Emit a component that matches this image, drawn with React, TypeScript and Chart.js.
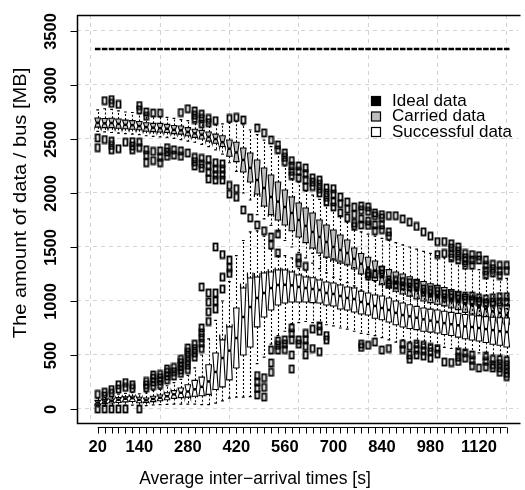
import React, { useEffect, useRef } from "react";
import { Chart, registerables } from "chart.js";

Chart.register(...registerables);

// Average inter-arrival times [s], one box group per setting
const arrivalTimes = [
  20, 40, 60, 80, 100, 120, 140, 160, 180, 200,
  220, 240, 260, 280, 300, 320, 340, 360, 380, 400,
  420, 440, 460, 480, 500, 520, 540, 560, 580, 600,
  620, 640, 660, 680, 700, 720, 740, 760, 780, 800,
  820, 840, 860, 880, 900, 920, 940, 960, 980, 1000,
  1020, 1040, 1060, 1080, 1100, 1120, 1140, 1160, 1180, 1200,
];
const labelledTimes = [20, 140, 280, 420, 560, 700, 840, 980, 1120];
const yTicks = [0, 500, 1000, 1500, 2000, 2500, 3000, 3500];
const seriesNames = ["Ideal data", "Carried data", "Successful data"];

// Ideal data (no spread)
const idealData = [
  3333, 3333, 3333, 3333, 3333, 3333, 3333, 3333, 3333, 3333,
  3333, 3333, 3333, 3333, 3333, 3333, 3333, 3333, 3333, 3333,
  3333, 3333, 3333, 3333, 3333, 3333, 3333, 3333, 3333, 3333,
  3333, 3333, 3333, 3333, 3333, 3333, 3333, 3333, 3333, 3333,
  3333, 3333, 3333, 3333, 3333, 3333, 3333, 3333, 3333, 3333,
  3333, 3333, 3333, 3333, 3333, 3333, 3333, 3333, 3333, 3333,
];

// Carried data: whisker ends, hinges, medians, outliers
const carriedLow = [
  2570, 2565, 2560, 2555, 2550, 2545, 2540, 2530, 2525, 2520,
  2515, 2505, 2495, 2480, 2470, 2450, 2430, 2400, 2360, 2280,
  2200, 2000, 1935, 1800, 1760, 1700, 1640, 1560, 1500, 1450,
  1400, 1350, 1300, 1260, 1220, 1200, 1170, 1140, 1100, 1060,
  1030, 1000, 980, 950, 920, 900, 880, 860, 840, 820,
  810, 790, 780, 760, 750, 740, 730, 720, 700, 690,
];
const carriedQ1 = [
  2610, 2605, 2605, 2600, 2595, 2590, 2585, 2572, 2568, 2565,
  2560, 2550, 2545, 2530, 2515, 2500, 2480, 2460, 2430, 2340,
  2290, 2195, 2102, 1990, 1880, 1800, 1750, 1704, 1650, 1593,
  1540, 1490, 1444, 1407, 1380, 1352, 1333, 1296, 1250, 1215,
  1190, 1150, 1120, 1090, 1065, 1045, 1020, 1000, 985, 970,
  955, 935, 920, 895, 880, 860, 845, 820, 800, 785,
];
const carriedMedian = [
  2650, 2645, 2648, 2640, 2632, 2628, 2620, 2610, 2605, 2600,
  2595, 2585, 2580, 2565, 2552, 2540, 2520, 2500, 2470, 2410,
  2375, 2306, 2232, 2120, 2046, 1963, 1920, 1870, 1815, 1750,
  1695, 1639, 1593, 1546, 1500, 1472, 1444, 1390, 1345, 1310,
  1280, 1230, 1200, 1170, 1150, 1130, 1105, 1085, 1065, 1050,
  1035, 1015, 1000, 975, 960, 940, 925, 905, 890, 870,
];
const carriedQ3 = [
  2695, 2690, 2692, 2685, 2675, 2670, 2662, 2650, 2645, 2645,
  2635, 2625, 2620, 2605, 2590, 2580, 2565, 2545, 2530, 2490,
  2470, 2417, 2370, 2306, 2232, 2167, 2102, 2028, 1963, 1907,
  1861, 1815, 1750, 1704, 1657, 1611, 1565, 1490, 1440, 1405,
  1370, 1320, 1290, 1268, 1250, 1225, 1200, 1180, 1160, 1145,
  1125, 1105, 1090, 1060, 1045, 1030, 1010, 995, 980, 965,
];
const carriedHigh = [
  2770, 2780, 2775, 2760, 2750, 2745, 2735, 2720, 2710, 2705,
  2700, 2690, 2680, 2670, 2660, 2650, 2640, 2630, 2640, 2650,
  2660, 2630, 2583, 2540, 2490, 2430, 2370, 2250, 2130, 2100,
  2020, 1980, 1940, 1890, 1840, 1790, 1730, 1665, 1640, 1620,
  1600, 1580, 1560, 1540, 1520, 1500, 1480, 1460, 1440, 1420,
  1400, 1380, 1350, 1320, 1300, 1290, 1220, 1250, 1210, 1210,
];
const carriedOutliers = [
  [2510, 2420], [2855, 2495], [2865, 2830, 2480, 2440, 2400], [2820, 2410], [2470],
  [2475, 2435, 2400], [2810, 2770, 2470, 2420], [2750, 2710, 2400, 2350, 2280], [2740, 2385, 2300], [2740, 2390, 2330, 2280],
  [2420, 2380, 2340], [2400, 2350], [2745, 2390, 2340], [2780, 2370], [2760, 2720, 2680, 2330, 2290, 2250],
  [2730, 2690, 2640, 2320, 2270, 2230], [2690, 2650, 2310, 2250, 2190, 2130], [2670, 2280, 2220, 2170, 2120], [2270, 2220, 2170, 2120], [2690, 2070, 1990],
  [2700, 2040, 1960], [2676, 1843], [1769], [2602, 1704], [2556, 1650],
  [2491, 1593], [2445, 2400, 1620], [2370, 2330, 2290], [2300, 2250, 2200, 2160], [2250, 2200, 2140],
  [2232, 2180, 2120, 2056], [2140, 2100, 2060], [2120, 2080, 2040, 2000], [2046, 2000, 1960, 1917], [2040, 1990, 1917, 1870],
  [1963, 1900, 1815], [1917, 1850, 1770], [1870, 1800, 1720, 1690], [1880, 1840, 1760, 1704], [1870, 1830, 1740, 1700],
  [1815, 1790, 1704, 1650], [1800, 1770, 1704, 1660], [1790, 1640, 1600], [1790], [1760],
  [1730], [1690], [1640], [1600], [1550, 1430],
  [1550, 1440], [1530, 1490, 1440, 1400], [1500, 1460, 1420, 1380], [1440, 1400, 1370, 1330], [1430, 1380, 1330],
  [1420, 1380], [1380, 1330, 1280, 1240], [1340, 1300, 1260], [1330, 1280, 1235], [1330, 1280],
];

// Successful data: whisker ends, hinges, medians, outliers
const successLow = [
  20, 25, 28, 30, 35, 35, 30, 32, 38, 40,
  42, 45, 45, 45, 45, 40, 40, 55, 75, 100,
  110, 110, 115, 420, 480, 600, 680, 720, 790, 800,
  810, 800, 790, 780, 770, 750, 740, 720, 700, 690,
  680, 660, 640, 620, 640, 620, 610, 600, 590, 580,
  570, 560, 550, 540, 530, 520, 510, 500, 490, 480,
];
const successQ1 = [
  45, 50, 55, 60, 66, 70, 58, 60, 68, 76,
  85, 98, 105, 110, 118, 122, 135, 180, 205, 270,
  380, 500, 574, 760, 852, 917, 963, 982, 991, 991,
  991, 985, 982, 963, 954, 926, 917, 898, 880, 870,
  840, 826, 805, 780, 759, 745, 735, 720, 712, 704,
  690, 680, 665, 650, 639, 630, 615, 600, 590, 574,
];
const successMedian = [
  60, 68, 75, 85, 95, 100, 85, 80, 93, 104,
  118, 135, 150, 162, 182, 205, 255, 343, 472, 540,
  657, 852, 944, 1028, 1074, 1120, 1148, 1150, 1145, 1130,
  1120, 1111, 1102, 1074, 1065, 1046, 1028, 1018, 991, 972,
  954, 935, 917, 890, 870, 858, 845, 830, 818, 806,
  795, 785, 775, 765, 759, 750, 740, 730, 720, 713,
];
const successQ3 = [
  80, 85, 92, 105, 112, 118, 108, 102, 118, 130,
  150, 170, 195, 225, 265, 295, 410, 518, 640, 760,
  935, 1120, 1213, 1222, 1259, 1268, 1287, 1287, 1268, 1241,
  1222, 1215, 1194, 1176, 1167, 1148, 1130, 1120, 1090, 1074,
  1055, 1046, 1028, 1000, 982, 965, 950, 935, 925, 917,
  905, 895, 885, 875, 870, 862, 855, 850, 845, 843,
];
const successHigh = [
  100, 108, 118, 138, 145, 152, 140, 150, 170, 182,
  215, 245, 275, 310, 380, 500, 650, 820, 1000, 1180,
  1420, 1560, 1640, 1650, 1600, 1480, 1420, 1420, 1400, 1300,
  1280, 1440, 1420, 1400, 1390, 1370, 1340, 1310, 1250, 1200,
  1180, 1160, 1140, 1120, 1110, 1100, 1090, 1070, 1055, 1040,
  1020, 1010, 1000, 985, 975, 965, 955, 945, 935, 930,
];
const successOutliers = [
  [135, 0], [155, 120, 0], [180, 145, 0], [225, 185, 0], [245, 200, 0],
  [225, 190], [0], [255, 225, 195], [315, 285, 250, 215], [320, 290, 260, 225],
  [370, 340, 305, 270], [385, 345, 305], [460, 430, 395, 360, 330], [565, 525, 485, 445, 405, 365], [600, 560, 520, 480],
  [1130, 750, 705, 660, 610, 560], [1075, 990, 900, 810], [1500, 1075, 1000, 925], [1430, 1220, 1110], [1380, 1310, 1255],
  [], [], [], [310, 250, 190, 130], [290, 200, 110],
  [1518, 546, 426, 340], [1444, 630, 590, 546], [640, 600, 550], [750, 700, 640, 500, 370], [1400, 1350, 640, 600],
  [1320, 700, 640, 580, 500], [740, 560], [770, 720, 530], [680, 640], [],
  [], [], [], [600, 570], [1259, 1230, 590],
  [1250, 620], [1287, 1250, 546], [1194, 1160, 560], [1190, 1150], [1180, 1140, 600, 550],
  [1170, 1130, 580, 500, 460], [1160, 1130, 600, 550, 500], [1111, 1080, 590, 540, 490], [1100, 1070, 570, 530, 470], [1090, 1060, 560, 510],
  [1065, 1030, 435], [1060, 1030, 430], [1050, 1020, 530, 480, 440], [1046, 1010, 520, 470], [1046, 1000, 500, 450, 400],
  [1030, 990, 380], [1020, 980, 490, 440, 390], [1030, 990, 460, 410, 380], [1040, 990, 460, 420, 380, 340], [1040, 990, 450, 410, 370, 330, 300],
];

// simulation runs behind each box (sets the notch size)
const RUNS_PER_SETTING = 10;
const BOX_WIDTH = 0.8;
const FONT = "'Liberation Sans', Arial, Helvetica, sans-serif";
const CARRIED_FILL = "#bebebe";

type BoxSeries = {
  low: number[];
  q1: number[];
  median: number[];
  q3: number[];
  high: number[];
  fill: string;
};

const boxSeries: BoxSeries[] = [
  { low: carriedLow, q1: carriedQ1, median: carriedMedian, q3: carriedQ3, high: carriedHigh, fill: CARRIED_FILL },
  { low: successLow, q1: successQ1, median: successMedian, q3: successQ3, high: successHigh, fill: "#ffffff" },
];

function drawBoxSeries(chart: any, s: BoxSeries) {
  const { ctx } = chart;
  const xs = chart.scales.x;
  const ys = chart.scales.y;
  const half = xs.getPixelForValue(1 + BOX_WIDTH / 2) - xs.getPixelForValue(1);
  ctx.save();
  ctx.strokeStyle = "#000";
  for (let i = 0; i < arrivalTimes.length; i++) {
    const cx = xs.getPixelForValue(i + 1);
    const wx = Math.round(cx) + 0.5;
    const yLow = ys.getPixelForValue(s.low[i]);
    const yQ1 = ys.getPixelForValue(s.q1[i]);
    const yMed = ys.getPixelForValue(s.median[i]);
    const yQ3 = ys.getPixelForValue(s.q3[i]);
    const yHigh = ys.getPixelForValue(s.high[i]);
    // whiskers
    ctx.lineWidth = 1.1;
    ctx.setLineDash([2, 2]);
    ctx.beginPath();
    ctx.moveTo(wx, yQ3);
    ctx.lineTo(wx, yHigh);
    ctx.moveTo(wx, yQ1);
    ctx.lineTo(wx, yLow);
    ctx.stroke();
    ctx.setLineDash([]);
    // staples
    ctx.lineWidth = 1.2;
    ctx.beginPath();
    ctx.moveTo(cx - half / 2, yHigh);
    ctx.lineTo(cx + half / 2, yHigh);
    ctx.moveTo(cx - half / 2, yLow);
    ctx.lineTo(cx + half / 2, yLow);
    ctx.stroke();
    // notched box
    const notch = (1.58 * (s.q3[i] - s.q1[i])) / Math.sqrt(RUNS_PER_SETTING);
    const yC1 = ys.getPixelForValue(s.median[i] - notch);
    const yC2 = ys.getPixelForValue(s.median[i] + notch);
    ctx.lineWidth = 1.1;
    ctx.beginPath();
    ctx.moveTo(cx - half, yQ1);
    ctx.lineTo(cx + half, yQ1);
    ctx.lineTo(cx + half, yC1);
    ctx.lineTo(cx + half / 2, yMed);
    ctx.lineTo(cx + half, yC2);
    ctx.lineTo(cx + half, yQ3);
    ctx.lineTo(cx - half, yQ3);
    ctx.lineTo(cx - half, yC2);
    ctx.lineTo(cx - half / 2, yMed);
    ctx.lineTo(cx - half, yC1);
    ctx.closePath();
    ctx.fillStyle = s.fill;
    ctx.fill();
    ctx.stroke();
    // median
    ctx.lineWidth = 2.5;
    ctx.beginPath();
    ctx.moveTo(cx - half / 2, yMed);
    ctx.lineTo(cx + half / 2, yMed);
    ctx.stroke();
  }
  ctx.restore();
}

const boxPlotPlugin = {
  id: "boxPlots",
  beforeDatasetsDraw(chart: any) {
    boxSeries.forEach((s) => drawBoxSeries(chart, s));
  },
};

const axesPlugin = {
  id: "frameAndAxes",
  afterDraw(chart: any) {
    const { ctx, chartArea } = chart;
    const xs = chart.scales.x;
    const ys = chart.scales.y;
    ctx.save();
    ctx.strokeStyle = "#000";
    ctx.lineWidth = 1.5;
    // plot frame
    const top = Math.round(chartArea.top) + 0.5;
    const left = Math.round(chartArea.left) + 0.5;
    const bottom = Math.round(chartArea.bottom) - 0.5;
    ctx.beginPath();
    ctx.moveTo(chartArea.right + 2, top);
    ctx.lineTo(left, top);
    ctx.lineTo(left, bottom);
    ctx.lineTo(chartArea.right + 2, bottom);
    ctx.stroke();

    // y axis ticks and labels
    ctx.lineWidth = 1;
    ctx.fillStyle = "#000";
    ctx.font = `bold 16.5px ${FONT}`;
    ctx.textAlign = "center";
    ctx.textBaseline = "middle";
    yTicks.forEach((v) => {
      const py = Math.round(ys.getPixelForValue(v)) + 0.5;
      ctx.beginPath();
      ctx.moveTo(left, py);
      ctx.lineTo(left - 7, py);
      ctx.stroke();
      ctx.save();
      ctx.translate(left - 27, py);
      ctx.rotate(-Math.PI / 2);
      ctx.fillText(String(v), 0, 1);
      ctx.restore();
    });

    // x axis line, ticks and labels
    const axisY = bottom + 4;
    const x0 = xs.getPixelForValue(1);
    const x1 = xs.getPixelForValue(arrivalTimes.length);
    ctx.beginPath();
    ctx.moveTo(x0, axisY);
    ctx.lineTo(x1, axisY);
    arrivalTimes.forEach((_, i) => {
      const px = Math.round(xs.getPixelForValue(i + 1)) + 0.5;
      ctx.moveTo(px, axisY);
      ctx.lineTo(px, axisY + 6);
    });
    ctx.stroke();
    labelledTimes.forEach((t) => {
      const px = xs.getPixelForValue(arrivalTimes.indexOf(t) + 1);
      ctx.fillText(String(t), px, axisY + 20);
    });

    // axis titles
    ctx.font = `17.5px ${FONT}`;
    ctx.fillText("Average inter\u2212arrival times [s]", 255, 479);
    ctx.save();
    ctx.translate(21, 203);
    ctx.rotate(-Math.PI / 2);
    ctx.scale(1.15, 1);
    ctx.fillText("The amount of data / bus [MB]", 0, 0);
    ctx.restore();

    // legend
    const fills = ["#000000", CARRIED_FILL, "#ffffff"];
    ctx.font = `17px ${FONT}`;
    ctx.textAlign = "left";
    ctx.lineWidth = 1.2;
    seriesNames.forEach((name, k) => {
      const ly = 101 + k * 15.5;
      ctx.fillStyle = fills[k];
      ctx.fillRect(371.5, ly - 4.5, 9, 9);
      ctx.strokeRect(371.5, ly - 4.5, 9, 9);
      ctx.fillStyle = "#000";
      ctx.fillText(name, 392, ly);
    });
    ctx.restore();
  },
};

function makeOutlierMarker(): HTMLCanvasElement {
  const c = document.createElement("canvas");
  c.width = 7;
  c.height = 10;
  const g = c.getContext("2d")!;
  g.strokeStyle = "#000";
  g.lineWidth = 1.8;
  g.strokeRect(1.5, 1.5, 4, 7);
  return c;
}

function toPoints(groups: number[][]) {
  const pts: { x: number; y: number }[] = [];
  groups.forEach((vals, i) => vals.forEach((v) => pts.push({ x: i + 1, y: v })));
  return pts;
}

export default function App() {
  const canvasRef = useRef<HTMLCanvasElement | null>(null);

  useEffect(() => {
    if (!canvasRef.current) return;
    const marker = makeOutlierMarker();
    const gridOpts = { color: "#d3d3d3", lineWidth: 1, drawTicks: false };
    const chart = new Chart(canvasRef.current, {
      type: "scatter",
      data: {
        datasets: [
          {
            label: "Carried outliers",
            data: toPoints(carriedOutliers),
            pointStyle: marker as any,
            pointRadius: 4,
          },
          {
            label: "Successful outliers",
            data: toPoints(successOutliers),
            pointStyle: marker as any,
            pointRadius: 4,
          },
          {
            label: seriesNames[0],
            data: idealData.map((v, i) => ({ x: i + 1, y: v })),
            pointStyle: "line",
            pointRadius: 2.8,
            borderWidth: 2.5,
            borderColor: "#000",
            backgroundColor: "#000",
          },
        ],
      },
      options: {
        animation: false,
        responsive: false,
        devicePixelRatio: 1,
        events: [],
        layout: { padding: { top: 15, left: 0, right: 0, bottom: 0 } },
        plugins: { legend: { display: false }, tooltip: { enabled: false } },
        scales: {
          x: {
            type: "linear",
            min: -1.985,
            max: 61.7,
            afterBuildTicks: (s: any) => {
              s.ticks = [0, 10, 20, 30, 40, 50, 60].map((v) => ({ value: v }));
            },
            afterFit: (s: any) => {
              s.height = 66;
            },
            ticks: { display: false },
            grid: gridOpts,
            border: { display: false, dash: [4, 4] },
          },
          y: {
            type: "linear",
            min: -139,
            max: 3648,
            afterBuildTicks: (s: any) => {
              s.ticks = yTicks.map((v) => ({ value: v }));
            },
            afterFit: (s: any) => {
              s.width = 77;
            },
            ticks: { display: false },
            grid: gridOpts,
            border: { display: false, dash: [4, 4] },
          },
        },
      } as any,
      plugins: [boxPlotPlugin, axesPlugin],
    });
    return () => chart.destroy();
  }, []);

  return (
    <div style={{ position: "fixed", left: 0, top: 0, width: 525, height: 490, background: "#fff" }}>
      <canvas ref={canvasRef} width={525} height={490} style={{ display: "block" }} />
    </div>
  );
}
